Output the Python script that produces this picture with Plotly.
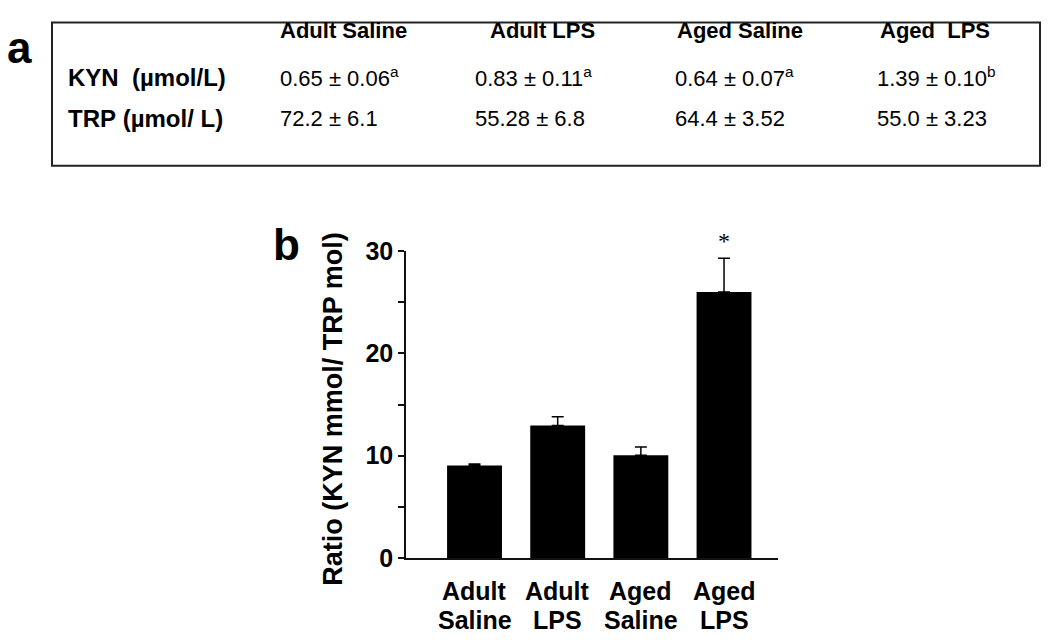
import plotly.graph_objects as go

# ---- data ----
groups = ["Adult Saline", "Adult LPS", "Aged Saline", "Aged LPS"]
ratio_mean = [9.05, 12.95, 10.05, 26.0]
ratio_err = [0.15, 0.85, 0.8, 3.3]

table_headers = ["Adult Saline", "Adult LPS", "Aged Saline", "Aged\u00a0\u00a0LPS"]
kyn_values = ["0.65 ± 0.06", "0.83 ± 0.11", "0.64 ± 0.07", "1.39 ± 0.10"]
kyn_letters = ["a", "a", "a", "b"]
trp_values = ["72.2 ± 6.1", "55.28 ± 6.8", "64.4 ± 3.52", "55.0 ± 3.23"]
row_labels = ["KYN\u00a0\u00a0(µmol/L)", "TRP\u00a0(µmol/\u00a0L)"]

OFF = 8
W, H = 1050 - 2 * OFF, 649
FONT = "Liberation Sans, Arial, Helvetica, sans-serif"

# observed placement of the page in the photograph: shot_y = 14.2 + 0.953 * page_y
SY0, SYK = 14.2, 0.953


def px(x):
    return (x - OFF) / W


def py(y):
    page_y = (y - SY0) / SYK
    fig_y = page_y - OFF
    return min(0.999, 1 - fig_y / H)


fig = go.Figure()
fig.add_trace(go.Bar(
    x=groups, y=ratio_mean,
    marker=dict(color="black", line=dict(width=0)),
    error_y=dict(type="data", array=ratio_err, arrayminus=[0] * 4,
                 symmetric=False, color="black", thickness=1.5, width=6),
    showlegend=False,
))

annotations = []
# panel labels
annotations.append(dict(x=px(6), y=1, xref="paper", yref="paper", text="a",
                        showarrow=False, xanchor="left", yanchor="top", borderpad=0,
                        font=dict(family=FONT, size=44, color="black", weight="bold")))
annotations.append(dict(x=px(271), y=py(243), xref="paper", yref="paper", text="b",
                        showarrow=False, xanchor="left", yanchor="middle",
                        font=dict(family=FONT, size=44, color="black", weight="bold")))

# table
header_x = [278, 488, 675, 878]
value_x = [278, 473, 673, 875]
for hx, h in zip(header_x, table_headers):
    annotations.append(dict(x=px(hx), y=py(30), xref="paper", yref="paper", text=h,
                            showarrow=False, xanchor="left", yanchor="middle",
                            font=dict(family=FONT, size=22, color="black", weight="bold")))
for ry, lab in zip([77, 118], row_labels):
    annotations.append(dict(x=px(66), y=py(ry), xref="paper", yref="paper", text=lab,
                            showarrow=False, xanchor="left", yanchor="middle",
                            font=dict(family=FONT, size=24, color="black", weight="bold")))
for vx, v, l in zip(value_x, kyn_values, kyn_letters):
    annotations.append(dict(x=px(vx), y=py(77), xref="paper", yref="paper",
                            text=f"{v}<sup>{l}</sup>",
                            showarrow=False, xanchor="left", yanchor="middle",
                            font=dict(family=FONT, size=22, color="black")))
for vx, v in zip(value_x, trp_values):
    annotations.append(dict(x=px(vx), y=py(118), xref="paper", yref="paper", text=v,
                            showarrow=False, xanchor="left", yanchor="middle",
                            font=dict(family=FONT, size=22, color="black")))

# y-axis title
annotations.append(dict(x=px(333), y=py(407), xref="paper", yref="paper",
                        text="Ratio (KYN mmol/ TRP mol)", textangle=-90,
                        showarrow=False, xanchor="center", yanchor="middle",
                        font=dict(family=FONT, size=27, color="black", weight="bold")))

# x category labels (two lines, tight spacing)
for g in groups:
    first, second = g.split(" ", 1)
    annotations.append(dict(x=g, y=py(589), xref="x", yref="paper", text=first,
                            showarrow=False, xanchor="center", yanchor="middle",
                            font=dict(family=FONT, size=25, color="black", weight="bold")))
    annotations.append(dict(x=g, y=py(617), xref="x", yref="paper", text=second,
                            showarrow=False, xanchor="center", yanchor="middle",
                            font=dict(family=FONT, size=25, color="black", weight="bold")))

# significance star
annotations.append(dict(x=groups[3], y=ratio_mean[3] + ratio_err[3], xref="x", yref="y",
                        text="*", showarrow=False, xanchor="center", yanchor="bottom",
                        yshift=2,
                        font=dict(family="Liberation Serif, Times New Roman, serif",
                                  size=24, color="black")))

fig.update_layout(
    width=W, height=H,
    margin=dict(l=0, r=0, t=0, b=0),
    plot_bgcolor="white", paper_bgcolor="white",
    bargap=0.34,
    annotations=annotations,
    shapes=[dict(type="rect", xref="paper", yref="paper",
                 x0=px(52), x1=px(1040), y0=py(165), y1=py(3),
                 line=dict(color="#222", width=2), fillcolor="rgba(0,0,0,0)")],
    xaxis=dict(domain=[px(406), px(778)], range=[-0.824, 3.649],
               showline=True, linecolor="#111", linewidth=1.5, ticks="",
               showgrid=False, zeroline=False, showticklabels=False),
    yaxis=dict(domain=[py(555.7), py(250)], range=[0, 30],
               showline=True, linecolor="#111", linewidth=1.5,
               ticks="outside", ticklen=6, tickwidth=1.5, tickcolor="#111",
               tickvals=[0, 10, 20, 30],
               minor=dict(tickvals=[5, 15, 25], ticks="outside", ticklen=6,
                          tickwidth=1.5, tickcolor="#111"),
               tickfont=dict(family=FONT, size=25, color="black", weight="bold"),
               showgrid=False, zeroline=False),
)

fig.write_html("out.html", config={"displayModeBar": False})
